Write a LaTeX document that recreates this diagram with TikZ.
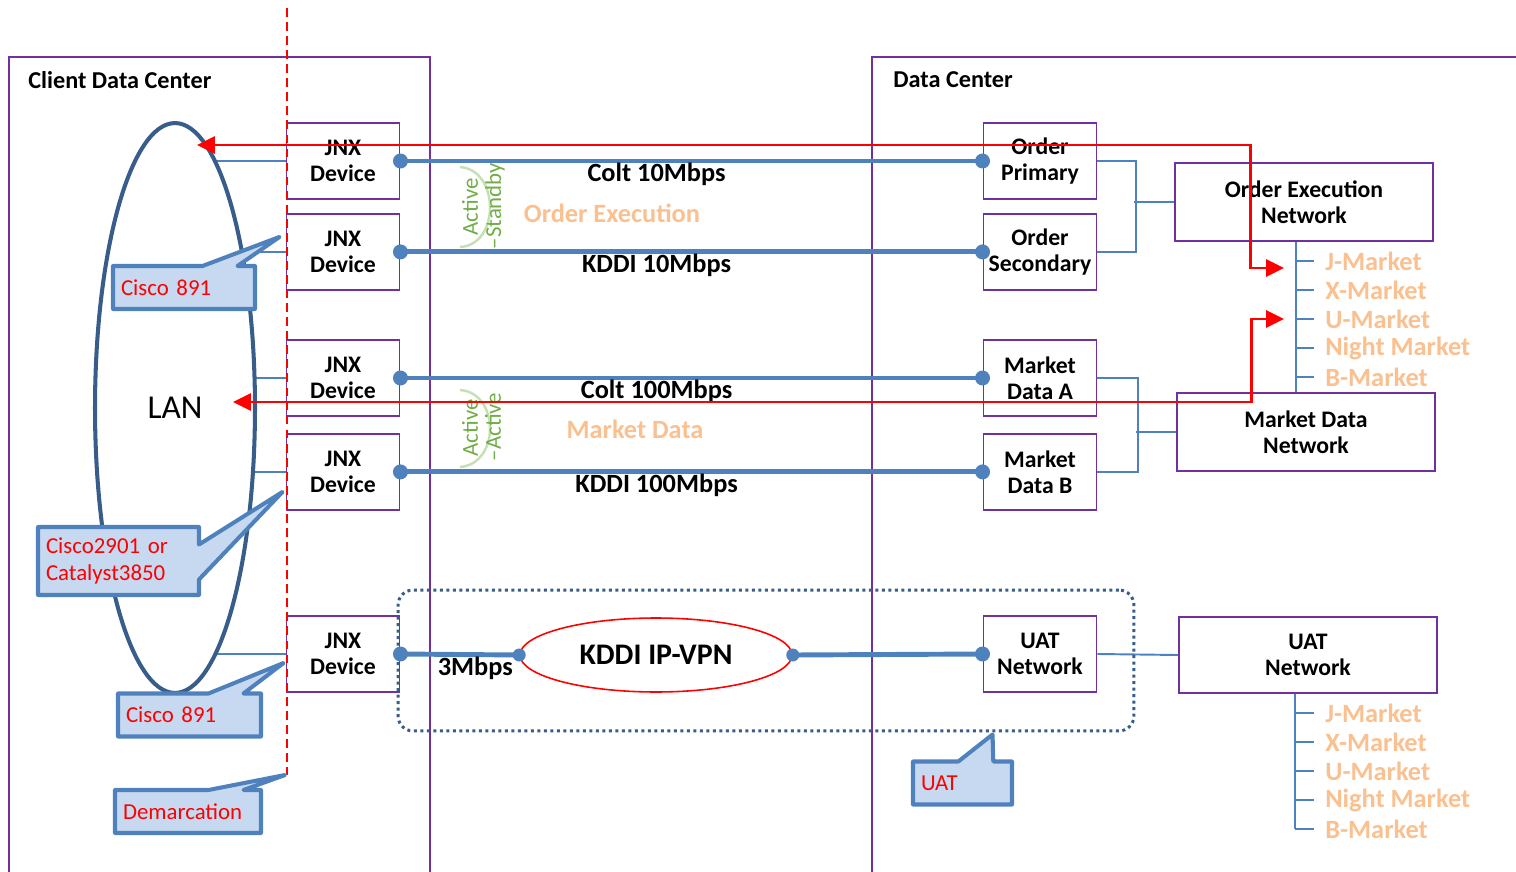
\documentclass[tikz,border=0pt]{standalone}
\usepackage{fontspec}
\setmainfont{Carlito}
\usetikzlibrary{shapes.geometric,shapes.callouts,arrows.meta,positioning,calc}
\definecolor{dcpurple}{HTML}{7030A0}
\definecolor{linkblue}{HTML}{4F81BD}
\definecolor{lanblue}{HTML}{385D8A}
\definecolor{notefill}{HTML}{C6D9F1}
\definecolor{mktorange}{HTML}{FAC090}
\definecolor{stbygreen}{HTML}{70AD47}
\definecolor{stbyarc}{HTML}{C5E0B4}
\tikzstyle{site} = [draw=dcpurple, line width=1.1pt]
\tikzstyle{block} = [draw=dcpurple, line width=1.1pt, rectangle, fill=white,
    minimum width=2.26cm, minimum height=1.52cm, inner sep=1pt, align=center,
    font=\fontsize{13.5}{14.7}\selectfont\bfseries]
\tikzstyle{netw} = [block, minimum width=5.16cm, minimum height=1.56cm]
\tikzstyle{title} = [anchor=west, inner sep=0pt, font=\fontsize{13.8}{15}\selectfont\bfseries]
\tikzstyle{link} = [draw=linkblue, line width=2.8pt]
\tikzstyle{conn} = [draw=linkblue, line width=1.1pt]
\tikzstyle{redarr} = [draw=red, line width=1.7pt, <->]
\tikzstyle{note} = [rectangle callout, draw=linkblue, fill=notefill, line width=2.3pt,
    line join=round, text=red, align=left, inner xsep=0.16cm, minimum height=0.86cm,
    callout pointer width=0.7cm, font=\fontsize{13}{15}\selectfont]
\tikzstyle{speed} = [below, inner sep=0pt, font=\fontsize{15}{16}\selectfont\bfseries]
\tikzstyle{flow} = [text=mktorange, font=\fontsize{15}{16}\selectfont\bfseries]
\tikzstyle{mkt} = [flow, anchor=west, inner sep=0pt]
\tikzstyle{stby} = [text=stbygreen, rotate=90, inner sep=0pt, font=\fontsize{13}{14}\selectfont]
\tikzstyle{stbyarc} = [draw=stbyarc, line width=1.4pt]

\begin{document}
\begin{tikzpicture}[x=0.02cm, y=-0.02cm, >={Triangle[length=0.36cm,width=0.34cm]}]
    \useasboundingbox (0,0) rectangle (1516,872);

    % sites
    \draw [site] (9,900) |- (430,57) -- (430,900);
    \draw [site] (872,900) |- (1530,57);
    \node [title] (cdctitle) at (28,80) {Client Data Center};
    \node [title] (dctitle) at (893,80) {Data Center};

    % client side
    \node [block] (jnx1) at (343,161) {JNX\\Device};
    \node [block, below=0.26cm of jnx1] (jnx2) {JNX\\Device};
    \node [block] (jnx3) at (343,378) {JNX\\Device};
    \node [block, below=0.32cm of jnx3] (jnx4) {JNX\\Device};
    \node [block] (jnx5) at (343,654) {JNX\\Device};

    \coordinate (lanc) at (175,408);
    \foreach \j in {jnx1,jnx2,jnx3,jnx4,jnx5}
        \draw [conn] (\j.west) -- (\j.west -| lanc);
    \node [ellipse, draw=lanblue, line width=2.3pt, fill=white, inner sep=0pt,
        minimum width=3.2cm, minimum height=11.4cm,
        font=\fontsize{19}{20}\selectfont] (lan) at (lanc) {LAN};

    \coordinate (demtop) at (287,8);
    \coordinate (dembot) at (287,775);
    \draw [red, dashed, line width=1.1pt, dash pattern=on 5pt off 3pt] (demtop) -- (dembot);

    % data center side
    \node [block] (ordp) at (1040,161) {Order\\Primary};
    \node [block, below=0.26cm of ordp] (ords) {Order\\Secondary};
    \node [block] (mda) at (1040,378) {Market\\Data A};
    \node [block, below=0.32cm of mda] (mdb) {Market\\Data B};
    \node [block] (uatin) at (1040,654) {UAT\\Network};

    \node [netw] (oen) at (1304,202) {Order Execution\\Network};
    \node [netw] (mdn) at (1306,432) {Market Data\\Network};
    \node [netw, minimum height=1.52cm] (uatnet) at (1308,655) {UAT\\Network};

    \draw [conn] (ordp.east) -- ++(39,0) |- (ords.east);
    \draw [conn] (oen.west) -- ++(-40,0);
    \draw [conn] (mda.east) -- ++(41,0) |- (mdb.east);
    \draw [conn] (mdn.west) -- ++(-40,0);
    \draw [conn] (uatin.east) -- (uatnet.west);

    % links
    \draw [link] (jnx1.east) -- node [speed, pos=0.44] {Colt 10Mbps} (ordp.west);
    \draw [link] (jnx2.east) -- node [speed, pos=0.44] {KDDI 10Mbps} (ords.west);
    \draw [link] (jnx3.east) -- node [speed, pos=0.44] {Colt 100Mbps} (mda.west);
    \draw [link] (jnx4.east) -- node [speed, pos=0.44] {KDDI 100Mbps} (mdb.west);

    \node [rectangle, draw=lanblue, dotted, line width=1.7pt, rounded corners=0.3cm,
        minimum width=14.72cm, minimum height=2.82cm] (uatzone) at (766,660.5) {};
    \node [ellipse, draw=red, line width=0.9pt, fill=white, inner sep=0pt,
        minimum width=5.44cm, minimum height=1.48cm,
        font=\fontsize{17}{18}\selectfont\bfseries] (vpn) at (656,655) {KDDI IP-VPN};
    \draw [link] (jnx5.east) -- node [speed, pos=0.63] {3Mbps} (vpn.west);
    \draw [link] (vpn.east) -- (uatin.west);

    \foreach \p in {jnx1.east,jnx2.east,jnx3.east,jnx4.east,jnx5.east,
        ordp.west,ords.west,mda.west,mdb.west,uatin.west}
        \fill [linkblue] (\p) circle (0.15cm);
    \fill [linkblue] (vpn.west) circle (0.13cm);
    \fill [linkblue] (vpn.east) circle (0.13cm);

    % active / standby
    \draw [stbyarc] (460,167) .. controls (500,170) and (500,245) .. (460,247);
    \draw [stbyarc] (460,390) .. controls (500,393) and (500,464) .. (460,467);
    \node [stby] (as1) at (470,207) {Active};
    \node [stby] (as2) at (495,206) {--Standby};
    \node [stby] (aa1) at (470,428) {Active};
    \node [stby] (aa2) at (493,427) {--Active};
    \node [flow] (oeflow) at (612,213) {Order Execution};
    \node [flow] (mdflow) at (635,429) {Market Data};

    % market lists
    \coordinate (oestem) at ($(oen.south)+(-8,0)$);
    \draw [conn] (oestem) -- (oestem |- mdn.north);
    \foreach \m [count=\i] in {J-Market,X-Market,U-Market,Night Market,B-Market} {
        \node [mkt] (om\i) at (1325,232+29*\i) {\m};
        \draw [conn] (om\i.west -| oestem) -- ([xshift=-0.22cm]om\i.west);
    }
    \coordinate (uatstem) at ($(uatnet.south)+(-13,0)$);
    \foreach \m [count=\i] in {J-Market,X-Market,U-Market,Night Market,B-Market} {
        \node [mkt] (um\i) at (1325,684+29*\i) {\m};
        \draw [conn] (um\i.west -| uatstem) -- ([xshift=-0.22cm]um\i.west);
    }
    \draw [conn] (uatstem) -- (uatstem |- um5.west);

    % callouts
    \node [note, text width=2.52cm, callout absolute pointer={($(jnx2.west)+(-6,-15)$)}] (n891a) at (184,287.5) {Cisco 891};
    \node [note, text width=2.9cm, minimum height=1.36cm, callout absolute pointer={($(jnx4.west)+(-3,20)$)}] (n2901) at (118.5,561) {Cisco2901 or\\Catalyst3850};
    \node [note, text width=2.54cm, callout absolute pointer={($(jnx5.west)+(-2,9)$)}] (n891b) at (189.5,715) {Cisco 891};
    \node [note, text width=2.6cm, callout absolute pointer={($(dembot)+(-2,0)$)}] (ndem) at (188,811.5) {Demarcation};
    \node [note, text width=1.66cm, callout absolute pointer={($(uatzone.south -| uatin.west)+(10,2)$)}] (nuat) at (962.5,783) {UAT};

    % flows to the markets
    \coordinate (lanin1) at (197,145);
    \coordinate (mktin1) at (1284,268);
    \coordinate (lanin2) at (233,402);
    \coordinate (mktin2) at (1284,319);
    \draw [redarr] (lanin1) -| ($(mktin1)+(-34,0)$) -- (mktin1);
    \draw [redarr] (lanin2) -| ($(mktin2)+(-33,0)$) -- (mktin2);
\end{tikzpicture}
\end{document}
